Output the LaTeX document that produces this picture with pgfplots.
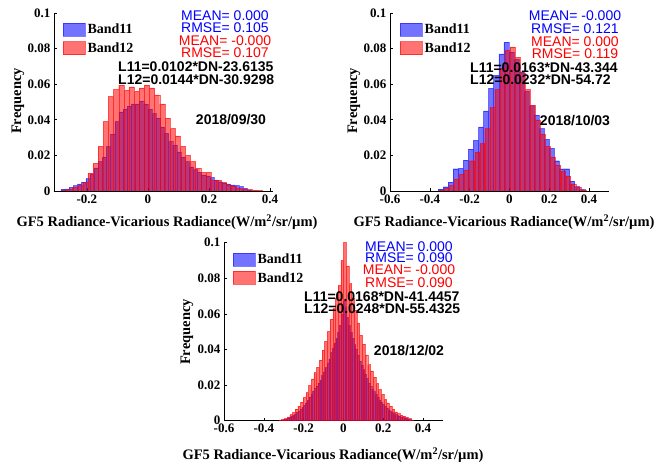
\documentclass[border=0pt]{standalone}
\usepackage{fontspec}
\setmainfont{Liberation Serif}
\newfontfamily\arial{Liberation Sans}
\usepackage{pgfplots}
\pgfplotsset{compat=1.18}
\pgfplotsset{
  histax/.style={scale only axis, width=219pt, height=178pt, anchor=south west,
    ymin=0, ymax=0.1, ytick={0,0.02,0.04,0.06,0.08,0.1},
    axis x line=bottom, axis y line=left, axis line style={-, line width=0.6pt},
    tick align=inside, major tick length=3pt, tick style={black, line width=0.6pt},
    scaled ticks=false, /pgf/number format/assume math mode=true,
    ticklabel style={font=\bfseries\fontsize{13}{13}\selectfont},
    yticklabel style={/pgf/number format/fixed, /pgf/number format/precision=2},
    xticklabel style={/pgf/number format/fixed, /pgf/number format/precision=1},
    legend style={anchor=north west, draw=none, fill=none, inner sep=0pt,
      row sep=3pt, font=\bfseries\fontsize{14}{14}\selectfont},
    legend cell align=left},
  b11/.style={ybar, bar shift=0pt, fill=blue, fill opacity=0.55, draw=blue, draw opacity=0.5, line width=0.4pt,
    legend image code/.code={\draw[##1] (0pt,-6.5pt) rectangle (22pt,6.5pt);}},
  b12/.style={ybar, bar shift=0pt, fill=red, fill opacity=0.55, draw=red, draw opacity=0.6, line width=0.4pt,
    legend image code/.code={\draw[##1] (0pt,-6.5pt) rectangle (22pt,6.5pt);}},
}
\tikzset{
  st/.style={font=\arial\fontsize{14}{14}\selectfont, inner sep=0pt, anchor=center},
  eq/.style={font=\arial\bfseries\fontsize{14}{14}\selectfont, inner sep=0pt, anchor=west},
  dt/.style={font=\arial\bfseries\fontsize{14}{14}\selectfont, inner sep=0pt, anchor=center},
  xl/.style={font=\bfseries\fontsize{14.5}{14.5}\selectfont, inner sep=0pt, anchor=center},
  yl/.style={font=\bfseries\fontsize{14.5}{14.5}\selectfont, inner sep=0pt, anchor=center, rotate=90},
}
\begin{document}
\begin{tikzpicture}
\path[use as bounding box] (0pt,0pt) rectangle (658pt,462pt);
% ---------------- Panel 1: 2018/09/30
\begin{axis}[histax, at={(54pt,271pt)}, xmin=-0.308, xmax=0.41, xtick={-0.2,0,0.2,0.4},
  legend style={at={(0.041,0.949)}}]
\addplot[b11, bar width=0.01357] coordinates {
(-0.2784,0.001)(-0.2648,0.0012)(-0.2513,0.002)(-0.2377,0.003)(-0.2241,0.004)(-0.2106,0.005)
(-0.1970,0.007)(-0.1834,0.0093)(-0.1698,0.013)(-0.1563,0.0165)(-0.1427,0.019)(-0.1291,0.025)
(-0.1156,0.032)(-0.1020,0.039)(-0.0884,0.0445)(-0.0749,0.046)(-0.0613,0.0477)(-0.0477,0.049)
(-0.0341,0.049)(-0.0206,0.0505)(-0.0070,0.049)(0.0066,0.046)(0.0201,0.0435)(0.0337,0.041)
(0.0473,0.036)(0.0609,0.0323)(0.0744,0.0277)(0.0880,0.0258)(0.1016,0.022)(0.1151,0.019)
(0.1287,0.0165)(0.1423,0.0135)(0.1558,0.012)(0.1694,0.0105)(0.1830,0.009)(0.1966,0.0085)
(0.2101,0.0075)(0.2237,0.0062)(0.2373,0.0052)(0.2508,0.0045)(0.2644,0.004)(0.2780,0.0035)
(0.2915,0.003)(0.3051,0.0025)(0.3187,0.0015)(0.3323,0.0005)};
\addlegendentry{Band11}
\addplot[b12, bar width=0.0168] coordinates {
(-0.2722,0.0005)(-0.2554,0.001)(-0.2386,0.002)(-0.2218,0.003)(-0.2050,0.005)(-0.1882,0.010)
(-0.1714,0.0155)(-0.1546,0.025)(-0.1378,0.039)(-0.1210,0.053)(-0.1042,0.057)(-0.0874,0.0595)
(-0.0706,0.0565)(-0.0538,0.0585)(-0.0370,0.056)(-0.0202,0.058)(-0.0034,0.0595)(0.0134,0.058)
(0.0302,0.054)(0.0470,0.049)(0.0638,0.041)(0.0806,0.035)(0.0974,0.031)(0.1142,0.025)
(0.1310,0.020)(0.1478,0.0165)(0.1646,0.0127)(0.1814,0.0105)(0.1982,0.0105)(0.2150,0.006)
(0.2318,0.006)(0.2486,0.0047)(0.2654,0.0034)(0.2822,0.0028)(0.2990,0.0015)(0.3158,0.001)
(0.3326,0.0008)(0.3494,0.0005)(0.3662,0.0003)};
\addlegendentry{Band12}
\end{axis}
% ---------------- Panel 2: 2018/10/03
\begin{axis}[histax, at={(390pt,271pt)}, xmin=-0.6, xmax=0.5, xtick={-0.6,-0.4,-0.2,0,0.2,0.4},
  legend style={at={(0.046,0.949)}}]
\addplot[b11, bar width=0.0254] coordinates {
(-0.3459,0.001)(-0.3205,0.0024)(-0.2951,0.005)(-0.2697,0.0125)(-0.2443,0.0127)(-0.2189,0.0174)
(-0.1935,0.0235)(-0.1681,0.0285)(-0.1427,0.036)(-0.1173,0.045)(-0.0919,0.0576)(-0.0665,0.065)
(-0.0411,0.077)(-0.0157,0.0837)(0.0097,0.078)(0.0351,0.074)(0.0605,0.067)(0.0859,0.056)
(0.1113,0.048)(0.1367,0.0426)(0.1621,0.035)(0.1875,0.029)(0.2129,0.024)(0.2383,0.017)
(0.2637,0.0125)(0.2891,0.0125)(0.3145,0.0055)(0.3399,0.0025)(0.3653,0.0008)};
\addlegendentry{Band11}
\addplot[b12, bar width=0.0245] coordinates {
(-0.3399,0.0005)(-0.3145,0.0015)(-0.2891,0.003)(-0.2637,0.0068)(-0.2383,0.0095)(-0.2129,0.0118)
(-0.1875,0.017)(-0.1621,0.022)(-0.1367,0.0267)(-0.1113,0.035)(-0.0859,0.047)(-0.0605,0.057)
(-0.0351,0.069)(-0.0097,0.079)(0.0157,0.081)(0.0411,0.075)(0.0665,0.066)(0.0919,0.057)
(0.1173,0.048)(0.1427,0.040)(0.1681,0.032)(0.1935,0.025)(0.2189,0.019)(0.2443,0.0145)
(0.2697,0.011)(0.2951,0.0085)(0.3205,0.004)(0.3459,0.002)(0.3713,0.0007)};
\addlegendentry{Band12}
\end{axis}
% ---------------- Panel 3: 2018/12/02
\begin{axis}[histax, at={(224pt,41.3pt)}, xmin=-0.6, xmax=0.5, xtick={-0.6,-0.4,-0.2,0,0.2,0.4},
  legend style={at={(0.041,0.948)}}]
\addplot[b11, bar width=0.009] coordinates {
(-0.3125,0.0003)(-0.3035,0.0005)(-0.2945,0.0007)(-0.2855,0.001)(-0.2765,0.0015)(-0.2675,0.002)
(-0.2585,0.0025)(-0.2495,0.0031)(-0.2405,0.0039)(-0.2315,0.0048)(-0.2225,0.0055)(-0.2135,0.0065)
(-0.2045,0.0076)(-0.1955,0.0087)(-0.1865,0.010)(-0.1775,0.0114)(-0.1685,0.0132)(-0.1595,0.0149)
(-0.1505,0.0166)(-0.1415,0.0181)(-0.1325,0.0194)(-0.1235,0.0211)(-0.1145,0.0228)(-0.1055,0.0255)
(-0.0965,0.0275)(-0.0875,0.0298)(-0.0785,0.0322)(-0.0695,0.0348)(-0.0605,0.0382)(-0.0515,0.0409)
(-0.0425,0.0436)(-0.0335,0.0462)(-0.0245,0.0496)(-0.0155,0.0536)(-0.0065,0.060)(0.0025,0.067)
(0.0115,0.064)(0.0205,0.058)(0.0295,0.0536)(0.0385,0.0496)(0.0475,0.0462)(0.0565,0.0429)
(0.0655,0.0402)(0.0745,0.0369)(0.0835,0.0335)(0.0925,0.0312)(0.1015,0.0288)(0.1105,0.0261)
(0.1195,0.0238)(0.1285,0.0211)(0.1375,0.0194)(0.1465,0.0178)(0.1555,0.0164)(0.1645,0.0147)
(0.1735,0.0131)(0.1825,0.0117)(0.1915,0.0104)(0.2005,0.0092)(0.2095,0.008)(0.2185,0.0072)
(0.2275,0.0062)(0.2365,0.0055)(0.2455,0.0047)(0.2545,0.004)(0.2635,0.0034)(0.2725,0.0029)
(0.2815,0.0025)(0.2905,0.0021)(0.2995,0.0018)(0.3085,0.0015)(0.3175,0.0013)(0.3265,0.0009)
(0.3355,0.0006)};
\addlegendentry{Band11}
\addplot[b12, bar width=0.0135] coordinates {
(-0.3170,0.0004)(-0.3035,0.0007)(-0.2900,0.0012)(-0.2765,0.0022)(-0.2630,0.0034)(-0.2495,0.0046)
(-0.2360,0.0065)(-0.2225,0.0082)(-0.2090,0.0105)(-0.1955,0.013)(-0.1820,0.0158)(-0.1685,0.0197)
(-0.1550,0.0235)(-0.1415,0.027)(-0.1280,0.030)(-0.1145,0.034)(-0.1010,0.0397)(-0.0875,0.0445)
(-0.0740,0.050)(-0.0605,0.057)(-0.0470,0.063)(-0.0335,0.069)(-0.0200,0.076)(-0.0065,0.090)
(0.0070,0.100)(0.0205,0.087)(0.0340,0.077)(0.0475,0.069)(0.0610,0.062)(0.0745,0.055)
(0.0880,0.048)(0.1015,0.043)(0.1150,0.037)(0.1285,0.0315)(0.1420,0.028)(0.1555,0.0245)
(0.1690,0.021)(0.1825,0.0175)(0.1960,0.0148)(0.2095,0.012)(0.2230,0.010)(0.2365,0.0082)
(0.2500,0.0065)(0.2635,0.005)(0.2770,0.004)(0.2905,0.0032)(0.3040,0.0025)(0.3175,0.0019)
(0.3310,0.0012)(0.3445,0.0005)};
\addlegendentry{Band12}
\end{axis}
% ---------------- texts panel 1
\node[st, blue] at (225pt,446pt) {MEAN= 0.000};
\node[st, blue] at (225pt,434pt) {RMSE= 0.105};
\node[st, red] at (225pt,421pt) {MEAN= -0.000};
\node[st, red] at (225pt,409pt) {RMSE= 0.107};
\node[eq] at (118pt,395pt) {L11=0.0102*DN-23.6135};
\node[eq] at (118pt,382pt) {L12=0.0144*DN-30.9298};
\node[dt] at (231pt,342pt) {2018/09/30};
\node[xl] at (167pt,240pt) {GF5 Radiance-Vicarious Radiance(W/m\textsuperscript{2}/sr/µm)};
\node[yl] at (18pt,361pt) {Frequency};
% ---------------- texts panel 2
\node[st, blue] at (575pt,446pt) {MEAN= -0.000};
\node[st, blue] at (575pt,433pt) {RMSE= 0.121};
\node[st, red] at (575pt,420pt) {MEAN= 0.000};
\node[st, red] at (575pt,408pt) {RMSE= 0.119};
\node[eq] at (470pt,394pt) {L11=0.0163*DN-43.344};
\node[eq] at (470pt,382pt) {L12=0.0232*DN-54.72};
\node[dt] at (575pt,341pt) {2018/10/03};
\node[xl] at (504pt,240pt) {GF5 Radiance-Vicarious Radiance(W/m\textsuperscript{2}/sr/µm)};
\node[yl] at (354pt,361pt) {Frequency};
% ---------------- texts panel 3
\node[st, blue] at (409pt,215pt) {MEAN= 0.000};
\node[st, blue] at (409pt,204pt) {RMSE= 0.090};
\node[st, red] at (409pt,192pt) {MEAN= -0.000};
\node[st, red] at (409pt,179pt) {RMSE= 0.090};
\node[eq] at (304pt,165pt) {L11=0.0168*DN-41.4457};
\node[eq] at (304pt,153pt) {L12=0.0248*DN-55.4325};
\node[dt] at (409pt,111pt) {2018/12/02};
\node[xl] at (333pt,7pt) {GF5 Radiance-Vicarious Radiance(W/m\textsuperscript{2}/sr/µm)};
\node[yl] at (187pt,130pt) {Frequency};
\end{tikzpicture}
\end{document}
